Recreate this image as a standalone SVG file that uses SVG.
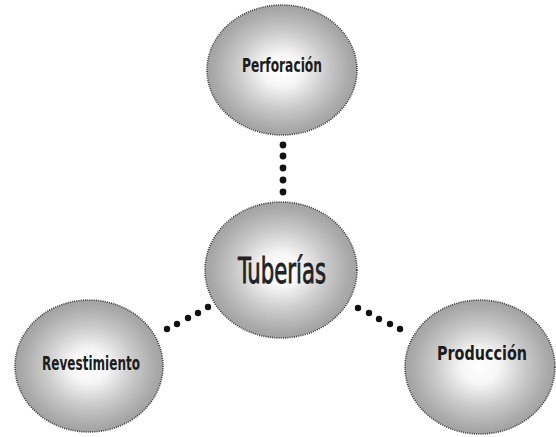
<svg xmlns="http://www.w3.org/2000/svg" width="556" height="437" viewBox="0 0 556 437">
<defs>
<radialGradient id="g" cx="50%" cy="50%" r="50%">
<stop offset="0" stop-color="#ffffff"/>
<stop offset="0.25" stop-color="#f6f6f6"/>
<stop offset="0.6" stop-color="#cacaca"/>
<stop offset="0.9" stop-color="#aaaaaa"/>
<stop offset="1" stop-color="#a2a2a2"/>
</radialGradient>
</defs>
<style>
.n{fill:url(#g);stroke:#3a3a3a;stroke-width:1.6;stroke-dasharray:1 1.2}
.t{font-family:"DejaVu Sans Condensed","DejaVu Sans",sans-serif;font-weight:bold;fill:#1c1c1c;text-anchor:middle}
.big{font-weight:normal;fill:#222;stroke:#222;stroke-width:0.8}
.d{fill:#111}
</style>
<rect width="556" height="437" fill="#fff"/>
<g id="connectors">
<circle class="d" cx="283" cy="145" r="3.4"/>
<circle class="d" cx="283" cy="156" r="3.4"/>
<circle class="d" cx="283" cy="168" r="3.4"/>
<circle class="d" cx="283" cy="180" r="3.4"/>
<circle class="d" cx="283" cy="192" r="3.4"/>
<circle class="d" cx="208" cy="307" r="3.2"/>
<circle class="d" cx="198" cy="313" r="3.2"/>
<circle class="d" cx="188" cy="318" r="3.2"/>
<circle class="d" cx="177" cy="324" r="3.2"/>
<circle class="d" cx="167" cy="329" r="3.2"/>
<circle class="d" cx="358" cy="308" r="3.2"/>
<circle class="d" cx="369" cy="313" r="3.2"/>
<circle class="d" cx="379" cy="319" r="3.2"/>
<circle class="d" cx="390" cy="324" r="3.2"/>
<circle class="d" cx="400" cy="329" r="3.2"/>
</g>
<g id="perforacion">
<ellipse class="n" cx="282" cy="70" rx="75" ry="65"/>
<text class="t" x="282" y="72" font-size="20" textLength="80" lengthAdjust="spacingAndGlyphs">Perforación</text>
</g>
<g id="tuberias">
<ellipse class="n" cx="281" cy="270" rx="76" ry="68"/>
<text class="t big" x="282" y="283" font-size="35" textLength="88" lengthAdjust="spacingAndGlyphs">Tuberías</text>
</g>
<g id="revestimiento">
<ellipse class="n" cx="89" cy="366" rx="74" ry="66"/>
<text class="t" x="91" y="370" font-size="20" textLength="98" lengthAdjust="spacingAndGlyphs">Revestimiento</text>
</g>
<g id="produccion">
<ellipse class="n" cx="480" cy="367" rx="75" ry="67"/>
<text class="t" x="482" y="360" font-size="20" textLength="90" lengthAdjust="spacingAndGlyphs">Producción</text>
</g>
</svg>
